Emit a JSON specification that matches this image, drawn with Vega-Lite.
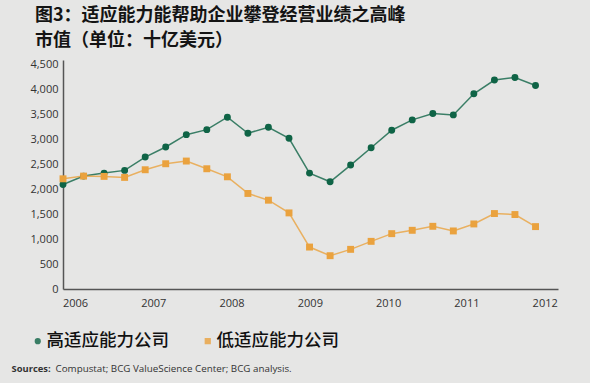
{
  "$schema": "https://vega.github.io/schema/vega-lite/v6.json",
  "width": 495,
  "height": 229,
  "autosize": {"type": "none"},
  "padding": {"left": 63, "top": 60, "right": 32, "bottom": 94},
  "background": "#e6e6e5",
  "title": {
    "text": ["图3：适应能力能帮助企业攀登经营业绩之高峰", "市值（单位：十亿美元）"],
    "anchor": "start",
    "frame": "group",
    "dx": -28,
    "offset": 8,
    "font": "Noto Sans CJK SC",
    "fontSize": 18,
    "fontWeight": "bold",
    "color": "#141414",
    "lineHeight": 25
  },
  "config": {"view": {"stroke": null}},
  "data": {
    "values": [
      {"t": 2005.847, "value": 2090, "series": "高适应能力公司"},
      {"t": 2006.110, "value": 2258, "series": "高适应能力公司"},
      {"t": 2006.372, "value": 2318, "series": "高适应能力公司"},
      {"t": 2006.634, "value": 2372, "series": "高适应能力公司"},
      {"t": 2006.897, "value": 2639, "series": "高适应能力公司"},
      {"t": 2007.159, "value": 2840, "series": "高适应能力公司"},
      {"t": 2007.422, "value": 3087, "series": "高适应能力公司"},
      {"t": 2007.684, "value": 3187, "series": "高适应能力公司"},
      {"t": 2007.947, "value": 3436, "series": "高适应能力公司"},
      {"t": 2008.209, "value": 3115, "series": "高适应能力公司"},
      {"t": 2008.471, "value": 3235, "series": "高适应能力公司"},
      {"t": 2008.734, "value": 3014, "series": "高适应能力公司"},
      {"t": 2008.996, "value": 2318, "series": "高适应能力公司"},
      {"t": 2009.259, "value": 2144, "series": "高适应能力公司"},
      {"t": 2009.521, "value": 2479, "series": "高适应能力公司"},
      {"t": 2009.783, "value": 2826, "series": "高适应能力公司"},
      {"t": 2010.046, "value": 3175, "series": "高适应能力公司"},
      {"t": 2010.308, "value": 3382, "series": "高适应能力公司"},
      {"t": 2010.571, "value": 3509, "series": "高适应能力公司"},
      {"t": 2010.833, "value": 3482, "series": "高适应能力公司"},
      {"t": 2011.095, "value": 3904, "series": "高适应能力公司"},
      {"t": 2011.358, "value": 4179, "series": "高适应能力公司"},
      {"t": 2011.620, "value": 4231, "series": "高适应能力公司"},
      {"t": 2011.883, "value": 4071, "series": "高适应能力公司"},
      {"t": 2005.847, "value": 2204, "series": "低适应能力公司"},
      {"t": 2006.110, "value": 2258, "series": "低适应能力公司"},
      {"t": 2006.372, "value": 2252, "series": "低适应能力公司"},
      {"t": 2006.634, "value": 2232, "series": "低适应能力公司"},
      {"t": 2006.897, "value": 2385, "series": "低适应能力公司"},
      {"t": 2007.159, "value": 2505, "series": "低适应能力公司"},
      {"t": 2007.422, "value": 2559, "series": "低适应能力公司"},
      {"t": 2007.684, "value": 2405, "series": "低适应能力公司"},
      {"t": 2007.947, "value": 2244, "series": "低适应能力公司"},
      {"t": 2008.209, "value": 1911, "series": "低适应能力公司"},
      {"t": 2008.471, "value": 1776, "series": "低适应能力公司"},
      {"t": 2008.734, "value": 1522, "series": "低适应能力公司"},
      {"t": 2008.996, "value": 839, "series": "低适应能力公司"},
      {"t": 2009.259, "value": 666, "series": "低适应能力公司"},
      {"t": 2009.521, "value": 793, "series": "低适应能力公司"},
      {"t": 2009.783, "value": 953, "series": "低适应能力公司"},
      {"t": 2010.046, "value": 1107, "series": "低适应能力公司"},
      {"t": 2010.308, "value": 1174, "series": "低适应能力公司"},
      {"t": 2010.571, "value": 1254, "series": "低适应能力公司"},
      {"t": 2010.833, "value": 1161, "series": "低适应能力公司"},
      {"t": 2011.095, "value": 1301, "series": "低适应能力公司"},
      {"t": 2011.358, "value": 1509, "series": "低适应能力公司"},
      {"t": 2011.620, "value": 1489, "series": "低适应能力公司"},
      {"t": 2011.883, "value": 1248, "series": "低适应能力公司"}
    ]
  },
  "encoding": {
    "x": {
      "field": "t",
      "type": "quantitative",
      "scale": {"domain": [2005.847, 2012.17], "nice": false, "zero": false},
      "axis": {
        "values": [2006, 2007, 2008, 2009, 2010, 2011, 2012],
        "format": "d",
        "ticks": false,
        "grid": false,
        "domainColor": "#555555",
        "domainWidth": 1.5,
        "labelFont": "Open Sans",
        "labelFontSize": 11,
        "labelColor": "#333333",
        "labelPadding": 8,
        "title": "Compustat; BCG ValueScience Center; BCG analysis.",
        "titleFont": "Open Sans",
        "titleFontSize": 9.8,
        "titleFontWeight": "normal",
        "titleColor": "#333333",
        "titleAnchor": "start",
        "titleAlign": "left",
        "titleBaseline": "middle",
        "titleX": -8,
        "titleY": 79
      }
    },
    "y": {
      "field": "value",
      "type": "quantitative",
      "scale": {"domain": [0, 4580], "nice": false},
      "axis": {
        "values": [0, 500, 1000, 1500, 2000, 2500, 3000, 3500, 4000, 4500],
        "format": ",.0f",
        "ticks": false,
        "grid": false,
        "domainColor": "#555555",
        "domainWidth": 1.5,
        "labelFont": "Open Sans",
        "labelFontSize": 11,
        "labelColor": "#333333",
        "labelPadding": 5,
        "title": "Sources:",
        "titleFont": "Open Sans",
        "titleFontSize": 9.4,
        "titleFontWeight": "bold",
        "titleColor": "#333333",
        "titleAngle": 0,
        "titleAlign": "left",
        "titleBaseline": "middle",
        "titleX": -52,
        "titleY": 308
      }
    },
    "color": {
      "field": "series",
      "type": "nominal",
      "scale": {"domain": ["高适应能力公司", "低适应能力公司"], "range": ["#0f6446", "#eaa23e"]},
      "legend": {
        "title": null,
        "orient": "none",
        "legendX": -34,
        "legendY": 272,
        "direction": "horizontal",
        "labelFont": "Noto Sans CJK SC",
        "labelFontSize": 17.5,
        "labelFontWeight": 500,
        "labelColor": "#111111",
        "labelLimit": 300,
        "labelOffset": 0,
        "columnPadding": 30,
        "symbolSize": 22
      }
    }
  },
  "layer": [
    {
      "mark": {"type": "line", "strokeWidth": 1.5, "opacity": 0.8}
    },
    {
      "mark": {"type": "point", "filled": true, "size": 48, "opacity": 1},
      "encoding": {
        "shape": {
          "field": "series",
          "type": "nominal",
          "scale": {"domain": ["高适应能力公司", "低适应能力公司"], "range": ["circle", "square"]},
          "legend": {
            "title": null,
            "orient": "none",
            "legendX": -34,
            "legendY": 272,
            "direction": "horizontal",
            "labelFont": "Noto Sans CJK SC",
            "labelFontSize": 17.5,
            "labelFontWeight": 500,
            "labelColor": "#111111",
            "labelLimit": 300,
            "labelOffset": 0,
            "columnPadding": 30,
            "symbolSize": 22
          }
        }
      }
    }
  ]
}
